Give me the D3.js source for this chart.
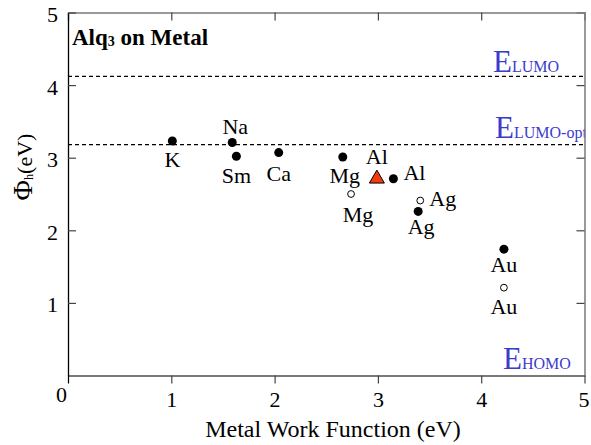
<!DOCTYPE html>
<html>
<head>
<meta charset="utf-8">
<script src="https://cdn.jsdelivr.net/npm/d3@7"></script>
</head>
<body style="margin:0">
<svg id="chart" width="591" height="445" font-family="Liberation Serif" style="display:block; font-family:'Liberation Serif', serif"></svg>
<script>
// DATA
// filled circles
const filledMetals = ["K", "Na", "Sm", "Ca", "Mg", "Al", "Ag", "Au"];
const filledWork = [1.01, 1.59, 1.63, 2.04, 2.66, 3.15, 3.39, 4.22];
const filledPhi = [3.23, 3.21, 3.02, 3.07, 3.01, 2.71, 2.26, 1.74];

// open circles
const openMetals = ["Mg", "Ag", "Au"];
const openWork = [2.74, 3.41, 4.22];
const openPhi = [2.50, 2.41, 1.21];

// red triangle
const triMetals = ["Al"];
const triWork = [2.99];
const triPhi = [2.71];

// energy levels
const levelNames = ["LUMO", "LUMO-opt", "HOMO"];
const levelValues = [4.12, 3.18, 0];

const xTicks = [0, 1, 2, 3, 4, 5];
const yTicks = [1, 2, 3, 4, 5];

// label placement (px offsets from the mark)
const filledLabelPos = [[0, 26, "middle"], [3, -8, "middle"], [0, 27, "middle"], [0, 28, "middle"],
    [2, 26, "middle"], [10, 1, "start"], [3, 23, "middle"], [0, 23, "middle"]];
const openLabelPos = [[7, 28, "middle"], [9, 5, "start"], [0, 26, "middle"]];
const triLabelPos = [[0, -15, "middle"]];
const levelLabelX = [493, 495, 503];
const levelLabelDy = [-4, -7, -7];

const fontName = "Liberation Serif";
const W = 591, H = 445;
const margin = { top: 12.5, right: 6.5, bottom: 69.5, left: 68 };

const svg = d3.select("#chart");

// every text gets the serif face
function serifText(sel) {
    return sel.attr("font-family", fontName).style("font-family", fontName);
}

const x = d3.scaleLinear().domain([0, 5]).range([margin.left, W - margin.right]);
const y = d3.scaleLinear().domain([0, 5]).range([H - margin.bottom, margin.top]);

svg.append("clipPath")
    .attr("id", "plot-clip")
    .append("rect")
    .attr("x", x(0))
    .attr("y", y(5))
    .attr("width", x(5) - x(0))
    .attr("height", y(0) - y(5));

// AXES
const gray = "#7a7a7a";

const topAxis = svg.append("g")
    .attr("transform", `translate(0, ${y(5)})`)
    .call(d3.axisTop(x).tickValues([1, 2, 3, 4]).tickSize(-8).tickFormat(""));

const rightAxis = svg.append("g")
    .attr("transform", `translate(${x(5)}, 0)`)
    .call(d3.axisRight(y).tickValues([1, 2, 3, 4]).tickSize(-8).tickFormat(""));

const bottomAxis = svg.append("g")
    .attr("transform", `translate(0, ${y(0)})`)
    .call(d3.axisBottom(x).tickValues(xTicks).tickFormat(d3.format("d"))
        .tickSize(8).tickSizeOuter(0).tickPadding(10));

const leftAxis = svg.append("g")
    .attr("transform", `translate(${x(0)}, 0)`)
    .call(d3.axisLeft(y).tickValues(yTicks).tickFormat(d3.format("d"))
        .tickSize(-8).tickSizeOuter(0).tickPadding(10));

[topAxis, rightAxis, bottomAxis, leftAxis].forEach(g => {
    serifText(g);
    serifText(g.selectAll("text"))
        .attr("font-size", 22)
        .attr("fill", "#000");
    g.selectAll(".tick line").attr("stroke", "#444").attr("stroke-width", 1.2);
});

topAxis.select(".domain").attr("stroke", gray).attr("stroke-width", 1.5);
rightAxis.select(".domain").attr("stroke", gray).attr("stroke-width", 1.5);
bottomAxis.select(".domain").attr("stroke", gray).attr("stroke-width", 2.2);
leftAxis.select(".domain").attr("stroke", "#000").attr("stroke-width", 1.3);

bottomAxis.selectAll(".tick text").attr("y", 0).attr("dy", 31);
bottomAxis.selectAll(".tick")
    .filter(d => d === 0)
    .select("text")
    .attr("x", -7)
    .attr("dy", 26);
bottomAxis.selectAll(".tick")
    .filter(d => d === 5)
    .select("text")
    .attr("x", -1);
bottomAxis.selectAll(".tick")
    .filter(d => d === 0)
    .select("line")
    .attr("stroke", "#000");

leftAxis.selectAll(".tick text").attr("dy", "0.41em").attr("x", -10);

// DASHED LEVEL LINES
svg.append("g")
    .selectAll("line")
    .data(levelValues.filter(v => v > 0))
    .enter()
    .append("line")
    .attr("x1", x(0))
    .attr("x2", x(5))
    .attr("y1", d => y(d))
    .attr("y2", d => y(d))
    .attr("stroke", "#000")
    .attr("stroke-width", 1.1)
    .attr("stroke-dasharray", "4,3");

// level labels
const levelText = svg.append("g")
    .attr("clip-path", "url(#plot-clip)")
    .selectAll("text")
    .data(levelNames)
    .enter()
    .append("text")
    .attr("x", (d, i) => levelLabelX[i])
    .attr("y", (d, i) => y(levelValues[i]) + levelLabelDy[i])
    .attr("fill", "#3b3bcc")
    .call(serifText);

levelText.append("tspan").attr("font-size", 31).text("E");
levelText.append("tspan").attr("font-size", 16).text(d => d);

// MARKS
svg.append("g")
    .selectAll("circle")
    .data(filledMetals)
    .enter()
    .append("circle")
    .attr("cx", (d, i) => x(filledWork[i]))
    .attr("cy", (d, i) => y(filledPhi[i]))
    .attr("r", 4.5)
    .attr("fill", "#000");

svg.append("g")
    .selectAll("circle")
    .data(openMetals)
    .enter()
    .append("circle")
    .attr("cx", (d, i) => x(openWork[i]))
    .attr("cy", (d, i) => y(openPhi[i]))
    .attr("r", 3.4)
    .attr("fill", "#fff")
    .attr("stroke", "#000")
    .attr("stroke-width", 1);

svg.append("g")
    .selectAll("path")
    .data(triMetals)
    .enter()
    .append("path")
    .attr("d", d3.symbol(d3.symbolTriangle, 97))
    .attr("transform", (d, i) => `translate(${x(triWork[i])}, ${y(triPhi[i])})`)
    .attr("fill", "#f23c0a")
    .attr("stroke", "#000")
    .attr("stroke-width", 1);

// point labels
function addLabels(names, xs, ys, pos) {
    svg.append("g")
        .selectAll("text")
        .data(names)
        .enter()
        .append("text")
        .attr("x", (d, i) => x(xs[i]) + pos[i][0])
        .attr("y", (d, i) => y(ys[i]) + pos[i][1])
        .attr("text-anchor", (d, i) => pos[i][2])
        .attr("font-size", 22)
        .call(serifText)
        .text(d => d);
}
addLabels(filledMetals, filledWork, filledPhi, filledLabelPos);
addLabels(openMetals, openWork, openPhi, openLabelPos);
addLabels(triMetals, triWork, triPhi, triLabelPos);

// TITLE
const title = svg.append("text")
    .attr("x", 72)
    .attr("y", 45)
    .attr("font-weight", "bold")
    .attr("font-size", 23)
    .call(serifText);
title.append("tspan").text("Alq");
title.append("tspan").attr("font-size", 14).attr("dy", 1).text("3");
title.append("tspan").attr("dy", -1).text(" on Metal");

// AXIS TITLES
svg.append("text")
    .attr("x", 333)
    .attr("y", 437)
    .attr("text-anchor", "middle")
    .attr("font-size", 24)
    .call(serifText)
    .text("Metal Work Function (eV)");

const yTitle = svg.append("text")
    .attr("transform", `translate(31.5, 167) rotate(-90)`)
    .attr("text-anchor", "middle")
    .call(serifText);
yTitle.append("tspan").attr("font-size", 28).text("Φ");
yTitle.append("tspan").attr("font-size", 12).attr("dy", 1).text("h");
yTitle.append("tspan").attr("font-size", 22).attr("dy", -1).text("(eV)");
</script>
</body>
</html>
